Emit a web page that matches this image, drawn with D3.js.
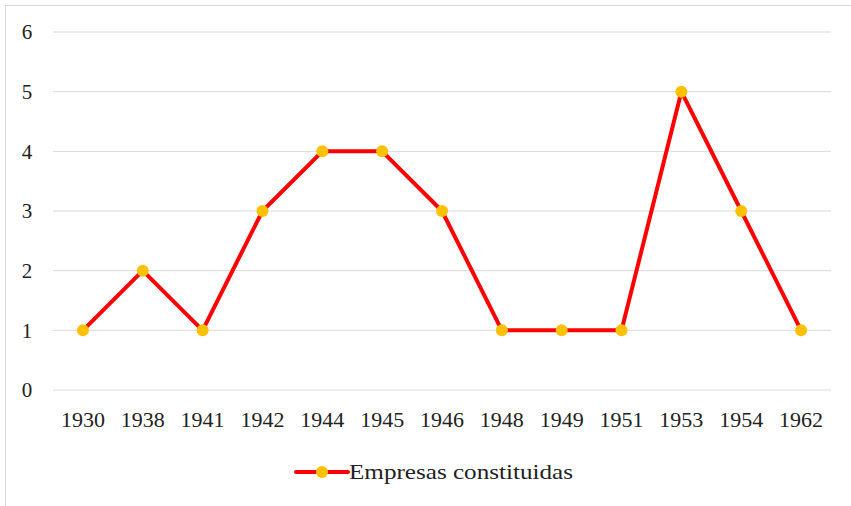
<!DOCTYPE html>
<html>
<head>
<meta charset="utf-8">
<script src="https://cdn.jsdelivr.net/npm/d3@7"></script>
<style>
  body { margin: 0; background: #fff; }
  text { font-family: "Liberation Serif", "DejaVu Serif", serif; fill: #222; }
</style>
</head>
<body>
<div id="container"></div>
<script>
let years = ["1930", "1938", "1941", "1942", "1944", "1945", "1946", "1948", "1949", "1951", "1953", "1954", "1962"];
let empresas = [1, 2, 1, 3, 4, 4, 3, 1, 1, 1, 5, 3, 1];
let yTicks = [0, 1, 2, 3, 4, 5, 6];
let seriesName = "Empresas constituidas";

let width = 851, height = 506;

let viz = d3.select("#container")
  .append("svg")
    .attr("width", width)
    .attr("height", height);

// frame
viz.append("rect")
  .attr("x", 5.5).attr("y", 5.5)
  .attr("width", width + 10).attr("height", height)
  .attr("fill", "none")
  .attr("stroke", "#d9d9d9");

let x = d3.scaleBand().domain(years).range([53, 831]);
let y = d3.scaleLinear().domain([0, 6]).range([390, 32]);

// gridlines
viz.append("g")
  .selectAll("line")
  .data(yTicks)
  .enter()
  .append("line")
    .attr("x1", 53).attr("x2", 831)
    .attr("y1", d => y(d)).attr("y2", d => y(d))
    .attr("stroke", "#d9d9d9")
    .attr("stroke-width", 1);

// y labels
viz.append("g")
  .selectAll("text")
  .data(yTicks)
  .enter()
  .append("text")
    .attr("x", 27)
    .attr("y", d => y(d))
    .attr("dy", "0.35em")
    .attr("text-anchor", "middle")
    .style("font-size", "21px")
    .text(d => d);

// x labels
viz.append("g")
  .selectAll("text")
  .data(years)
  .enter()
  .append("text")
    .attr("x", d => x(d) + x.bandwidth() / 2)
    .attr("y", 420)
    .attr("dy", "0.35em")
    .attr("text-anchor", "middle")
    .attr("textLength", 44)
    .attr("lengthAdjust", "spacingAndGlyphs")
    .style("font-size", "21px")
    .text(d => d);

let pts = years.map((yr, i) => ({ year: yr, value: empresas[i] }));

let line = d3.line()
  .x(d => x(d.year) + x.bandwidth() / 2)
  .y(d => y(d.value));

viz.append("path")
  .datum(pts)
  .attr("d", line)
  .attr("fill", "none")
  .attr("stroke", "#ff0000")
  .attr("stroke-width", 4)
  .attr("stroke-linejoin", "round");

viz.append("g")
  .selectAll("circle")
  .data(pts)
  .enter()
  .append("circle")
    .attr("cx", d => x(d.year) + x.bandwidth() / 2)
    .attr("cy", d => y(d.value))
    .attr("r", 6)
    .attr("fill", "#ffc000");

// legend
let legend = viz.append("g").attr("transform", "translate(296,472)");
legend.append("line")
  .attr("x1", 0).attr("x2", 52)
  .attr("y1", 0).attr("y2", 0)
  .attr("stroke", "#ff0000")
  .attr("stroke-width", 4)
  .attr("stroke-linecap", "round");
legend.append("circle")
  .attr("cx", 26).attr("cy", 0).attr("r", 6)
  .attr("fill", "#ffc000");
legend.append("text")
  .attr("x", 53).attr("y", 0)
  .attr("dy", "0.35em")
  .style("font-size", "21px")
  .attr("textLength", 224)
  .attr("lengthAdjust", "spacingAndGlyphs")
  .text(seriesName);
</script>
</body>
</html>
